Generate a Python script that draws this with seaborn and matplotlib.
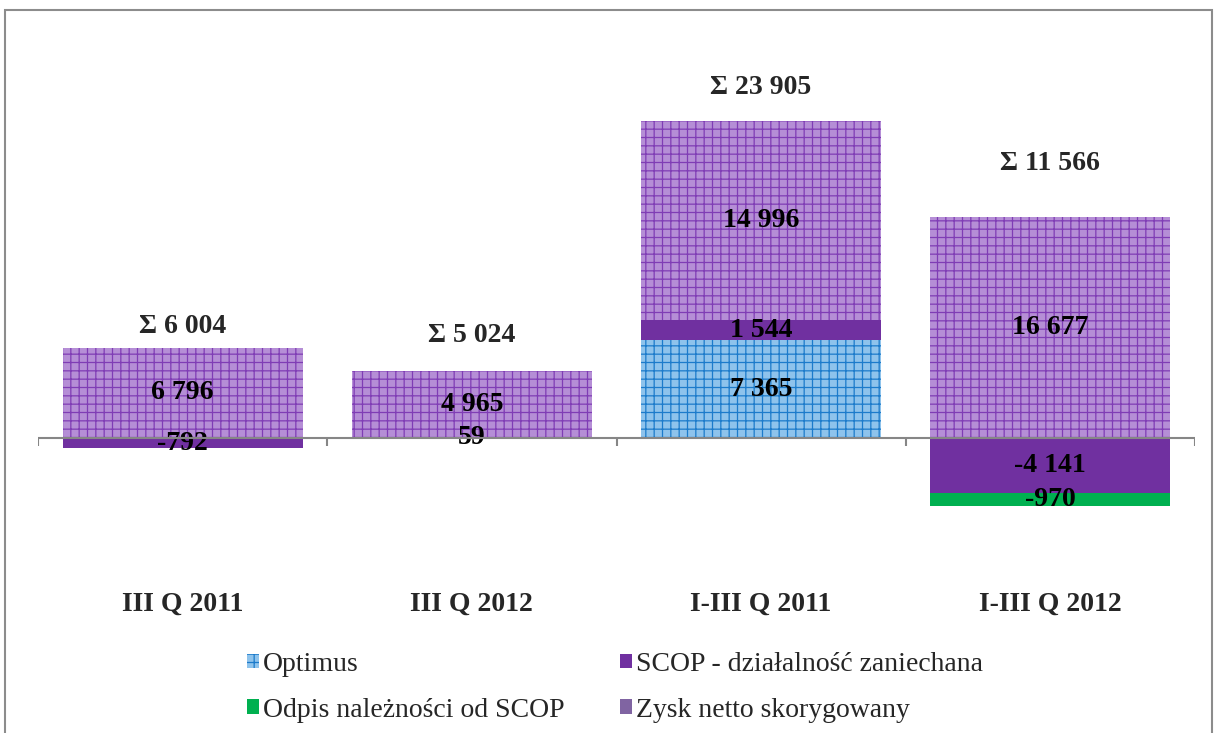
import numpy as np
import matplotlib
matplotlib.use('Agg')
import matplotlib.pyplot as plt
from matplotlib.patches import Patch, Rectangle
import seaborn as sns

# dane (tys. zł)
categories = ['III Q 2011', 'III Q 2012', 'I-III Q 2011', 'I-III Q 2012']
optimus = [0, 0, 7365, 0]
scop = [-792, 59, 1544, -4141]
odpis = [0, 0, 0, -970]
zysk = [6796, 4965, 14996, 16677]
totals = [6004, 5024, 23905, 11566]

series_names = ['Optimus', 'SCOP - działalność zaniechana',
                'Odpis należności od SCOP', 'Zysk netto skorygowany']

# styl
sns.set_theme(style='white')
plt.rcParams['font.family'] = ['Liberation Serif', 'DejaVu Serif']
plt.rcParams['hatch.linewidth'] = 0.9

styles = [
    dict(color='#8EC3EC', edgecolor='#1C7BCB', hatch='++'),
    dict(color='#7030A0', edgecolor='#7030A0', hatch=None),
    dict(color='#00B050', edgecolor='#00B050', hatch=None),
    dict(color='#B58ED6', edgecolor='#7F3DB5', hatch='++'),
]
sum_pad_px = [21, 36, 33, 53]
FS = 20

fig = plt.figure(figsize=(12.16, 7.33), dpi=100)
ax = fig.add_axes([38 / 1216, 1 - 570.6 / 733, (1195 - 38) / 1216, 530.6 / 733])

pos_base = np.zeros(len(categories))
neg_base = np.zeros(len(categories))
for name, vals, st in zip(series_names, [optimus, scop, odpis, zysk], styles):
    vals = np.array(vals, dtype=float)
    bottom = np.where(vals >= 0, pos_base, neg_base)
    sns.barplot(x=categories, y=vals, bottom=bottom, ax=ax, width=0.83,
                color=st['color'], edgecolor=st['edgecolor'], hatch=st['hatch'],
                linewidth=0, saturation=1, errorbar=None)
    cont = ax.containers[-1]
    labels = [f'{int(v):,}'.replace(',', ' ') if v != 0 else '' for v in vals]
    ax.bar_label(cont, labels=labels, label_type='center',
                 fontsize=FS, fontweight='bold', color='black')
    pos_base += np.where(vals > 0, vals, 0)
    neg_base += np.where(vals < 0, vals, 0)

# sumy nad słupkami
for i, tot in enumerate(totals):
    ax.annotate(f'Σ {tot:,}'.replace(',', ' '), xy=(i, pos_base[i]),
                xytext=(0, sum_pad_px[i] * 0.72), textcoords='offset points',
                ha='center', va='center', fontsize=FS, fontweight='bold')

ax.set_xlim(-0.5, 3.5)
ax.set_ylim(-10000, 30000)
ax.set_yticks([])
ax.set_xlabel('')
for s in ax.spines.values():
    s.set_visible(False)
ax.axhline(0, color='#868686', lw=1.5, zorder=3)
ax.vlines(np.arange(len(categories) + 1) - 0.5, -600, 0, color='#868686', lw=1.5, zorder=3)
ax.tick_params(axis='x', length=0, pad=15)
for t in ax.get_xticklabels():
    t.set_fontsize(FS)
    t.set_fontweight('bold')

# legenda
handles = [Patch(facecolor=st['color'], edgecolor=st['edgecolor'], hatch=st['hatch'], linewidth=0)
           for st in styles]
handles[3] = Patch(facecolor='#8064A2', linewidth=0)
order = [0, 2, 1, 3]
fig.legend([handles[k] for k in order], [series_names[k] for k in order],
           loc='upper left', bbox_to_anchor=(247 / 1216, 1 - 652 / 733), ncol=2,
           frameon=False, fontsize=FS, handlelength=0.42, handleheight=0.42,
           handletextpad=0.15, columnspacing=2.0, labelspacing=0.74,
           borderpad=0, borderaxespad=0)

# ramka wykresu
fig.add_artist(Rectangle((5 / 1216, -0.1), 1207 / 1216, 1.1 - 10 / 733,
                         transform=fig.transFigure, fill=False,
                         edgecolor='#8C8C8C', lw=1.5, clip_on=False))

fig.savefig('out.png', dpi=100)
